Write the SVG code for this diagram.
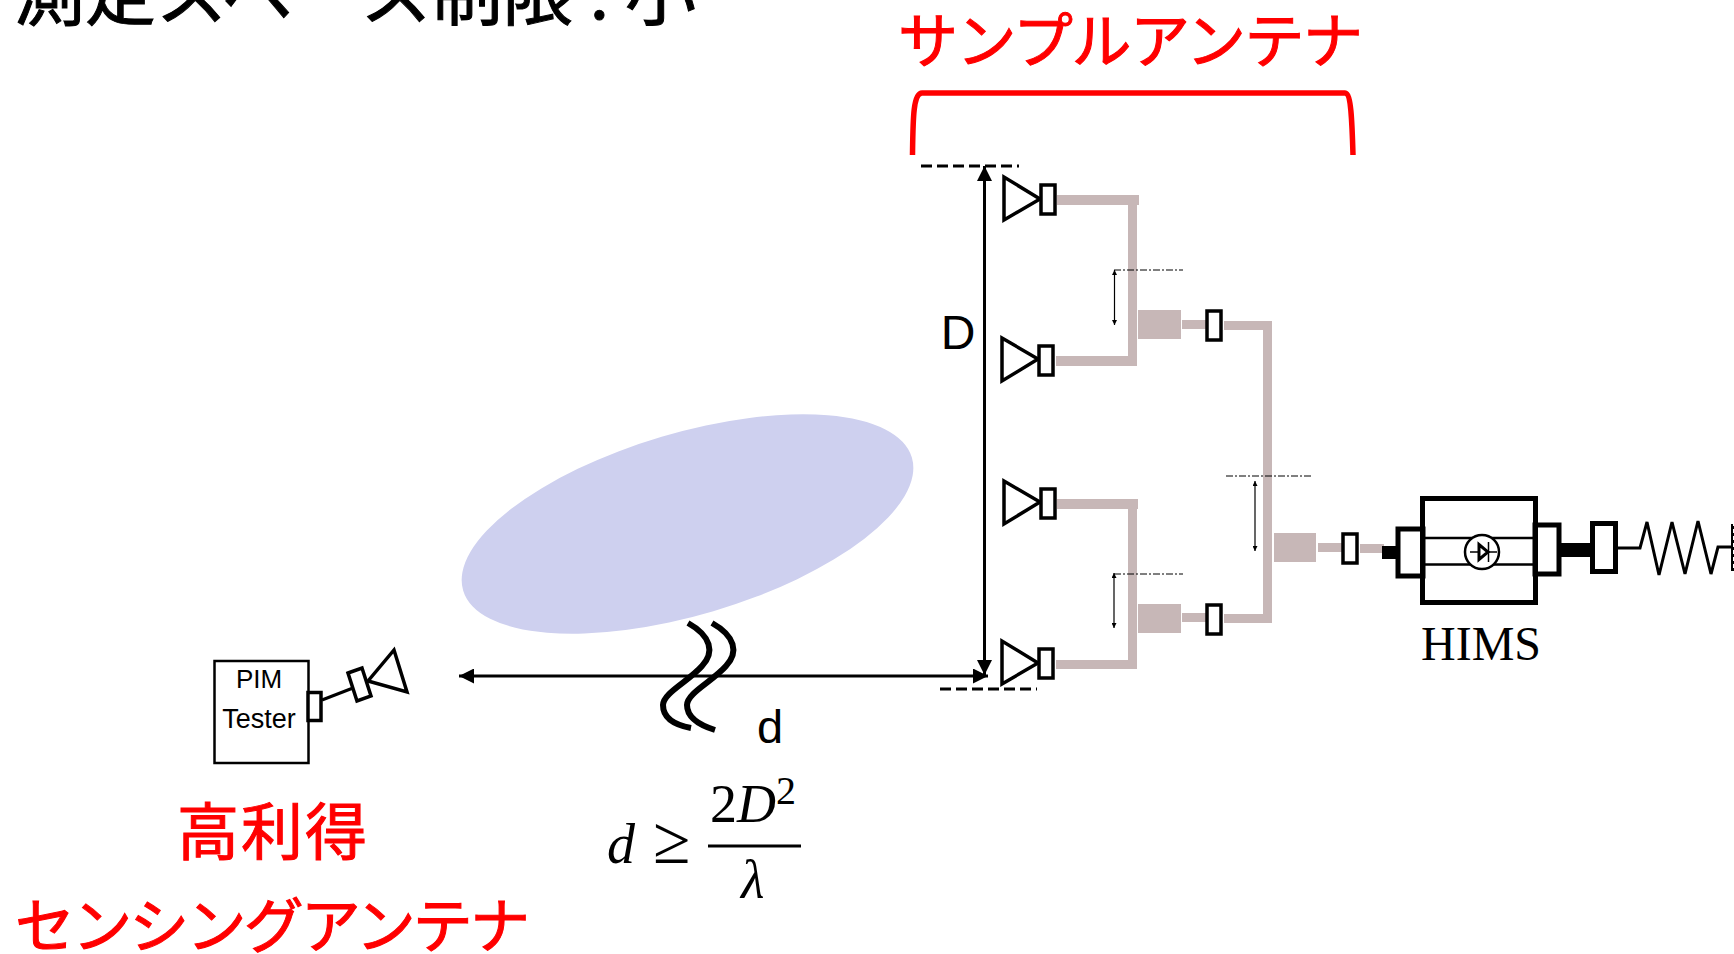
<svg xmlns="http://www.w3.org/2000/svg" width="1734" height="954" viewBox="0 0 1734 954">
<style>
.jp{font-family:"Noto Sans CJK JP","Noto Sans",sans-serif}
.red{fill:#ff0000;stroke:#ff0000;stroke-width:1;font-size:60px}
.sans{font-family:"Liberation Sans",Arial,sans-serif;fill:#000}
.serif{font-family:"Liberation Serif","Times New Roman",serif;fill:#000}
.box{fill:#fff;stroke:#000;stroke-width:3.5}
.horn{fill:#fff;stroke:#000;stroke-width:3.5}
.feed{fill:#c7b7b7;stroke:none}
.blk{fill:#000;stroke:none}
.ln{fill:none;stroke:#000}
.dash{fill:none;stroke:#000;stroke-width:3;stroke-dasharray:11 5}
.dd{fill:none;stroke:#000;stroke-width:1;stroke-dasharray:7 2 2 2}
.thin{fill:none;stroke:#000;stroke-width:1.2;marker-start:url(#s);marker-end:url(#s)}
.dim{fill:none;stroke:#000;stroke-width:3;marker-start:url(#a);marker-end:url(#a)}
</style>
<defs>
<marker id="a" viewBox="0 0 10 10" refX="10" refY="5" markerUnits="userSpaceOnUse" markerWidth="15" markerHeight="15" orient="auto-start-reverse"><path d="M0 0L10 5L0 10z" fill="#000"/></marker>
<marker id="s" viewBox="0 0 10 10" refX="10" refY="5" markerUnits="userSpaceOnUse" markerWidth="5" markerHeight="5" orient="auto-start-reverse"><path d="M0 0L10 5L0 10z" fill="#000"/></marker>
</defs>

<text class="jp" x="14" y="19" font-size="71" fill="#000" stroke="#000" stroke-width="1">測定スペース制限 : 小</text>

<g id="beam"><ellipse cx="687.500" cy="524" rx="234" ry="91" transform="rotate(-16.5 687.5 524)" fill="#ced0ef"/></g>

<g id="connectors">
<path class="dash" d="M921 166H1019"/>
<path class="dash" d="M940 689H1037"/>
<path class="dim" d="M984.5 166V675"/>
<path class="dim" d="M459 676H988"/>
<path d="M688 623C711 636 715 652 702 666C689 681 663 693 663 705C663 718 675 725 691 728" fill="none" stroke="#000" stroke-width="6"/>
<path d="M712 623C735 636 739 652 726 666C713 681 687 693 687 705C687 718 699 725 715 730" fill="none" stroke="#000" stroke-width="6"/>
<path class="feed" d="M1057 195H1139V205H1137V366H1056V356H1128V205H1057z"/>
<path class="feed" d="M1057 499H1138V509H1137V669H1056V660H1128V509H1057z"/>
<path class="feed" d="M1224 321H1272V623H1224V614H1263V330H1224z"/>
<rect class="feed" x="1138" y="310" width="43" height="29"/>
<rect class="feed" x="1182" y="320" width="24" height="9"/>
<rect class="feed" x="1138" y="604" width="43" height="29"/>
<rect class="feed" x="1182" y="613" width="24" height="9"/>
<rect class="feed" x="1274" y="533" width="42" height="29"/>
<rect class="feed" x="1318" y="543" width="24" height="9"/>
<rect class="feed" x="1360" y="544" width="24" height="9"/>
<path class="dd" d="M1114 270H1183"/>
<path class="dd" d="M1114 574H1183"/>
<path class="dd" d="M1226 476H1311"/>
<path class="thin" d="M1114.500 270V325"/>
<path class="thin" d="M1114 573V628"/>
<path class="thin" d="M1255 481V551"/>
<path class="blk" d="M1382 546H1396V559H1382z"/>
<path class="blk" d="M1561 543H1590V557H1561z"/>
<path class="ln" stroke-width="3" d="M1618 548H1640L1647 522L1659 575L1672 522L1685 574L1698 521L1711 574L1718 547H1732"/>
<path class="ln" stroke-width="2" d="M1732 524V571"/>
<path class="ln" stroke-width="2" stroke-dasharray="3 4" d="M1733.500 526V571"/>
<path class="ln" stroke-width="3" d="M322 700L353 688"/>
<path d="M912.500 155C913 120 913 93 922 93H1345C1351 93 1352 120 1353 155" fill="none" stroke="#ff0000" stroke-width="5.500"/>
</g>

<g id="horn1"><path class="horn" d="M1004 177V220L1040 199z"/><rect class="box" x="1041" y="185" width="14" height="29"/></g>
<g id="horn2"><path class="horn" d="M1002 338V381L1038 359z"/><rect class="box" x="1039" y="346" width="14" height="29"/></g>
<g id="horn3"><path class="horn" d="M1004 481V524L1040 502z"/><rect class="box" x="1041" y="489" width="14" height="29"/></g>
<g id="horn4"><path class="horn" d="M1002 641V684L1038 663z"/><rect class="box" x="1039" y="649" width="14" height="29"/></g>
<g id="conn1"><rect class="box" x="1207" y="311" width="14" height="29"/></g>
<g id="conn2"><rect class="box" x="1207" y="605" width="14" height="29"/></g>
<g id="conn3"><rect class="box" x="1343" y="534" width="14" height="29"/></g>

<g id="hims">
<rect x="1398" y="529" width="25" height="47" fill="#fff" stroke="#000" stroke-width="5"/>
<rect x="1535" y="525" width="24" height="49" fill="#fff" stroke="#000" stroke-width="5"/>
<rect x="1422.500" y="498.500" width="113" height="104" fill="#fff" fill-opacity="0" stroke="#000" stroke-width="5"/>
<path class="ln" stroke-width="2.500" d="M1424 538H1534M1424 564.500H1534"/>
<circle cx="1482" cy="552" r="17" fill="#fff" stroke="#000" stroke-width="2.500"/>
<path class="ln" stroke-width="1.500" d="M1470 552H1497M1488.500 542V562"/>
<path d="M1479 544.500V559.500L1488 552z" fill="#fff" stroke="#000" stroke-width="3"/>
<rect x="1592.500" y="523.500" width="23" height="48" fill="#fff" stroke="#000" stroke-width="5"/>
<text class="serif" x="1481" y="660" font-size="48" text-anchor="middle">HIMS</text>
</g>

<g id="pim">
<rect x="214.500" y="661" width="94" height="102" fill="#fff" stroke="#000" stroke-width="2.500"/>
<text class="sans" x="259" y="688" font-size="26" text-anchor="middle">PIM</text>
<text class="sans" x="259" y="728" font-size="27" text-anchor="middle">Tester</text>
<rect class="box" x="308" y="692.500" width="13" height="28"/>
<path class="horn" d="M368 681L394 650L407 692z"/>
<path class="box" d="M348 673L362 668L371 696L357 701z"/>
</g>

<g id="labels">
<text class="sans" x="958" y="349" font-size="48" text-anchor="middle">D</text>
<text class="sans" x="770" y="743" font-size="47" text-anchor="middle">d</text>
<text class="serif" x="607" y="863" font-size="56" font-style="italic">d</text>
<text class="serif" x="653" y="863" font-size="68">≥</text>
<text class="serif" x="710" y="822" font-size="54">2<tspan font-style="italic">D</tspan><tspan font-size="40" dy="-18">2</tspan></text>
<path class="ln" stroke-width="3" d="M708 846H801"/>
<text class="serif" x="741" y="898" font-size="54" font-style="italic">λ</text>
<text class="jp red" x="898" y="63" textLength="465">サンプルアンテナ</text>
<text class="jp red" x="177" y="855" style="font-size:62px" textLength="190">高利得</text>
<text class="jp red" x="15" y="948" textLength="515">センシングアンテナ</text>
</g>
</svg>
